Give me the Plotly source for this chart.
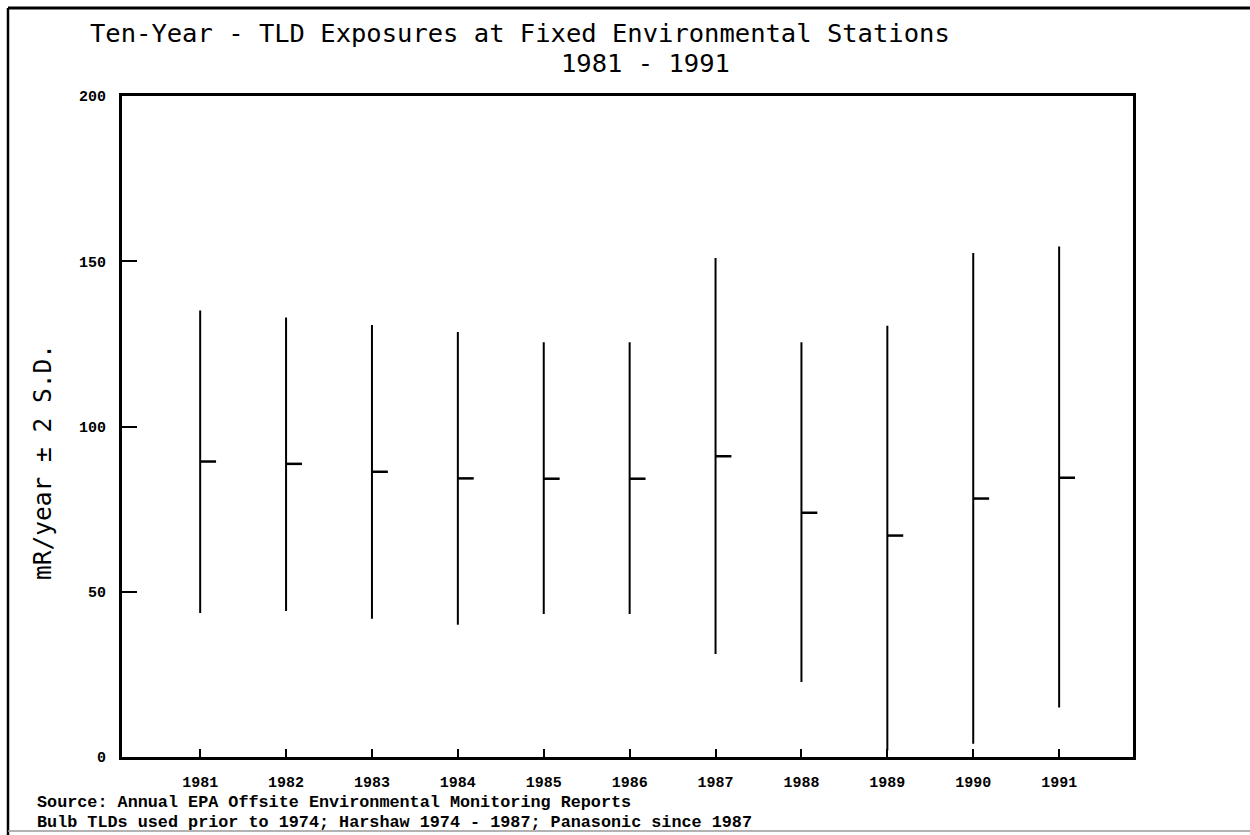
import plotly.graph_objects as go

years = [1981, 1982, 1983, 1984, 1985, 1986, 1987, 1988, 1989, 1990, 1991]
means = [89.4, 88.7, 86.3, 84.3, 84.2, 84.2, 91.0, 73.9, 67.0, 78.2, 84.5]
upper = [135.1, 133.0, 130.7, 128.6, 125.5, 125.5, 151.0, 125.5, 130.5, 152.5, 154.5]
lower = [43.6, 44.2, 41.8, 40.0, 43.3, 43.3, 31.2, 22.7, 2.0, 4.0, 15.0]
year_labels = [str(y) for y in years]
y_ticks = [0, 50, 100, 150, 200]

title_line1 = "Ten-Year - TLD Exposures at Fixed Environmental Stations"
title_line2 = "1981 - 1991"
y_title = "mR/year \u00b1 2 S.D."
footer1 = "Source: Annual EPA Offsite Environmental Monitoring Reports"
footer2 = "Bulb TLDs used prior to 1974; Harshaw 1974 - 1987; Panasonic since 1987"

W, H = 1250, 835
L, R, T, B = 122, 117, 96, 78
PW, PH = W - L - R, H - T - B
XR = [1980.09, 1991.86]
MEAN_TICK = 0.185


def px(x):
    return (x - L) / PW


def py(y):
    return (H - B - y) / PH


# vertical range lines
vx, vy = [], []
for yr, lo, hi in zip(years, lower, upper):
    vx += [yr, yr, None]
    vy += [lo, hi, None]

# mean ticks
mx, my = [], []
for yr, m in zip(years, means):
    mx += [yr, yr + MEAN_TICK, None]
    my += [m, m, None]

fig = go.Figure()
fig.add_trace(go.Scatter(x=vx, y=vy, mode="lines",
                         line=dict(color="black", width=2), hoverinfo="skip",
                         showlegend=False))
fig.add_trace(go.Scatter(x=mx, y=my, mode="lines",
                         line=dict(color="black", width=2.5), hoverinfo="skip",
                         showlegend=False))

tick_font = dict(family="Liberation Mono", size=15, color="black", weight="bold")

fig.update_layout(
    width=W, height=H,
    margin=dict(l=L, r=R, t=T, b=B, pad=0),
    paper_bgcolor="white", plot_bgcolor="white",
    showlegend=False,
    xaxis=dict(range=XR, tickmode="array", tickvals=years, ticktext=year_labels,
               ticks="inside", ticklen=8, tickwidth=1.5, tickcolor="black",
               showline=True, linecolor="black", linewidth=3, mirror=True,
               showgrid=False, zeroline=False, tickfont=tick_font,
               ticklabelstandoff=9),
    yaxis=dict(range=[0, 200], tickmode="array", tickvals=y_ticks,
               ticktext=[str(v) for v in y_ticks],
               ticks="inside", ticklen=15, tickwidth=2, tickcolor="black",
               showline=True, linecolor="black", linewidth=3, mirror=True,
               showgrid=False, zeroline=False, tickfont=tick_font,
               ticklabelstandoff=10),
)

title_font = dict(family="DejaVu Sans Mono", size=25.5, color="black")
fig.add_annotation(text=title_line1, xref="paper", yref="paper",
                   x=px(88), y=py(33), xanchor="left", yanchor="middle",
                   showarrow=False, font=title_font)
fig.add_annotation(text=title_line2, xref="paper", yref="paper",
                   x=px(645), y=py(63), xanchor="center", yanchor="middle",
                   showarrow=False, font=title_font)
fig.add_annotation(text=y_title, xref="paper", yref="paper",
                   x=px(42), y=py(462), xanchor="center", yanchor="middle",
                   textangle=-90, showarrow=False,
                   font=dict(family="DejaVu Sans Mono", size=24.5, color="black"))

foot_font = dict(family="Liberation Mono", size=16.8, color="black", weight="bold")
fig.add_annotation(text=footer1, xref="paper", yref="paper",
                   x=px(35), y=py(802), xanchor="left", yanchor="middle",
                   showarrow=False, font=foot_font)
fig.add_annotation(text=footer2, xref="paper", yref="paper",
                   x=px(35), y=py(822), xanchor="left", yanchor="middle",
                   showarrow=False, font=foot_font)

# outer page border
fig.add_shape(type="line", xref="paper", yref="paper",
              x0=px(8), x1=px(1250), y0=py(8), y1=py(8),
              line=dict(color="black", width=3))
fig.add_shape(type="line", xref="paper", yref="paper",
              x0=px(8), x1=px(8), y0=py(8), y1=py(835),
              line=dict(color="black", width=2.5))
fig.add_shape(type="line", xref="paper", yref="paper",
              x0=px(8), x1=px(1250), y0=py(831), y1=py(831),
              line=dict(color="#999999", width=1.5))

fig.write_html(
    "out.html",
    config={"displayModeBar": False},
    post_script="document.body.style.margin='0';document.body.style.overflow='hidden';",
)
